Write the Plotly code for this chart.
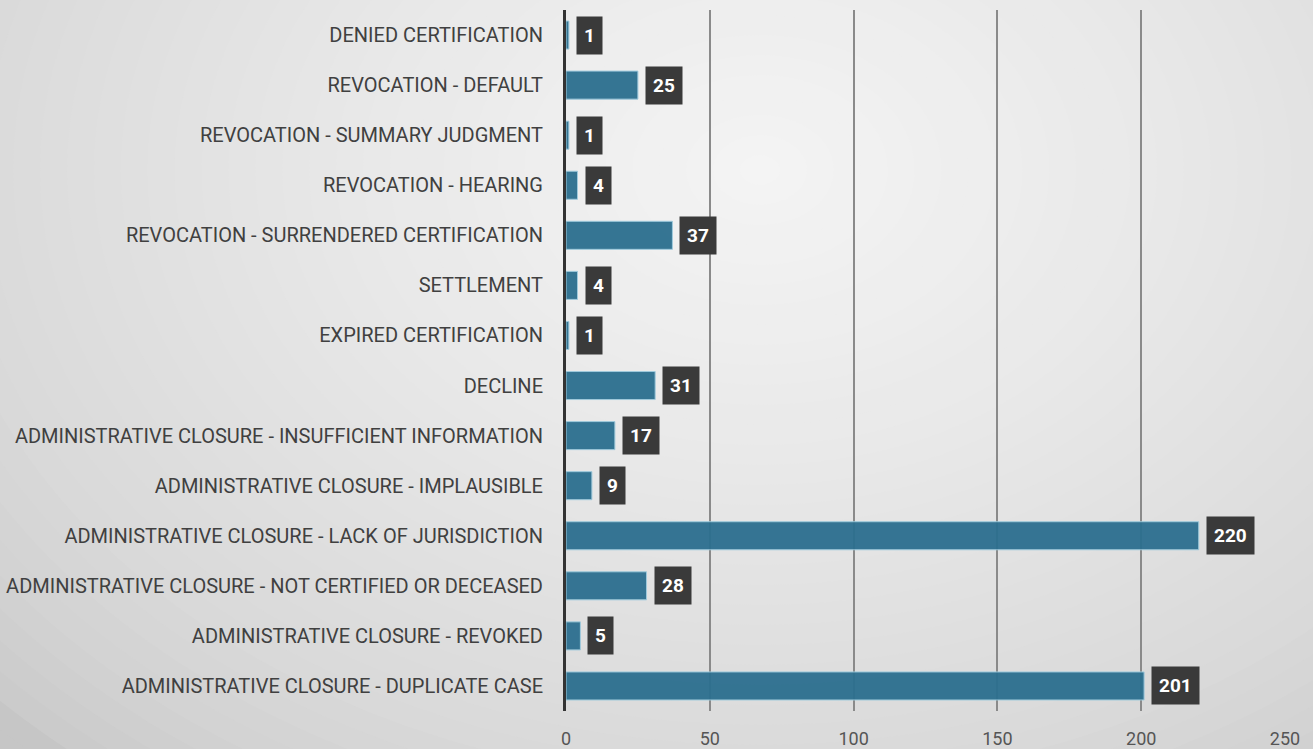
import plotly.graph_objects as go

# categories listed bottom -> top (as plotted)
categories = [
    'ADMINISTRATIVE CLOSURE - DUPLICATE CASE',
    'ADMINISTRATIVE CLOSURE - REVOKED',
    'ADMINISTRATIVE CLOSURE - NOT CERTIFIED OR DECEASED',
    'ADMINISTRATIVE CLOSURE - LACK OF JURISDICTION',
    'ADMINISTRATIVE CLOSURE - IMPLAUSIBLE',
    'ADMINISTRATIVE CLOSURE - INSUFFICIENT INFORMATION',
    'DECLINE',
    'EXPIRED CERTIFICATION',
    'SETTLEMENT',
    'REVOCATION - SURRENDERED CERTIFICATION',
    'REVOCATION - HEARING',
    'REVOCATION - SUMMARY JUDGMENT',
    'REVOCATION - DEFAULT',
    'DENIED CERTIFICATION',
]
counts = [201, 5, 28, 220, 9, 17, 31, 1, 4, 37, 4, 1, 25, 1]
x_ticks = [0, 50, 100, 150, 200, 250]

fig = go.Figure()

fig.add_trace(go.Bar(
    x=counts,
    y=categories,
    orientation='h',
    marker=dict(color='#2c6f8f', line=dict(color='#9cc9dc', width=1)),
    opacity=0.95,
    width=0.56,
    hoverinfo='x+y',
    showlegend=False,
))

# value labels in dark boxes
for c, v in zip(categories, counts):
    fig.add_annotation(
        x=v, y=c, text='<b>%d</b>' % v, showarrow=False,
        xanchor='left', xshift=7,
        bgcolor='#3a3a3a', borderpad=7,
        font=dict(color='white', size=19, family='Roboto'),
    )

# radial-ish background gradient from concentric ellipses
W, H = 1313, 749
L, R, T, B = 566, 28, 10, 38
pw, ph = W - L - R, H - T - B
cx, cy = 760, 170
n = 40
edge = (0xc6, 0xc6, 0xc6)
centre = (0xf4, 0xf4, 0xf4)
shapes = []
for i in range(n):
    f = i / (n - 1)
    rx = 1050 * (1 - f) + 20
    ry = 780 * (1 - f) + 15
    col = tuple(int(edge[k] + (centre[k] - edge[k]) * f ** 0.6) for k in range(3))
    shapes.append(dict(
        type='circle', xref='paper', yref='paper', layer='below',
        x0=(cx - rx - L) / pw, x1=(cx + rx - L) / pw,
        y0=(H - B - (cy + ry)) / ph, y1=(H - B - (cy - ry)) / ph,
        fillcolor='rgb(%d,%d,%d)' % col, line=dict(width=0),
    ))

fig.update_layout(
    width=W, height=H,
    margin=dict(l=L, r=R, t=T, b=B),
    paper_bgcolor='rgb(198,198,198)',
    plot_bgcolor='rgba(0,0,0,0)',
    font=dict(family='Roboto', color='#404040'),
    shapes=shapes,
    xaxis=dict(
        range=[0, 250], tickvals=x_ticks, showgrid=True,
        gridcolor='#8a8a8a', gridwidth=1.5, zeroline=False,
        tickfont=dict(size=18, color='#555555'), ticks='',
        ticklabelstandoff=15, automargin=False, fixedrange=True,
    ),
    yaxis=dict(
        categoryorder='array', categoryarray=categories,
        showline=True, linecolor='#333333', linewidth=3,
        tickfont=dict(size=20, color='#404040'), ticks='',
        ticklabelstandoff=16, showgrid=False, automargin=False,
    ),
    bargap=0.44,
)

fig.write_html('out.html', config={'displayModeBar': False},
               post_script="document.body.style.margin='0';")
